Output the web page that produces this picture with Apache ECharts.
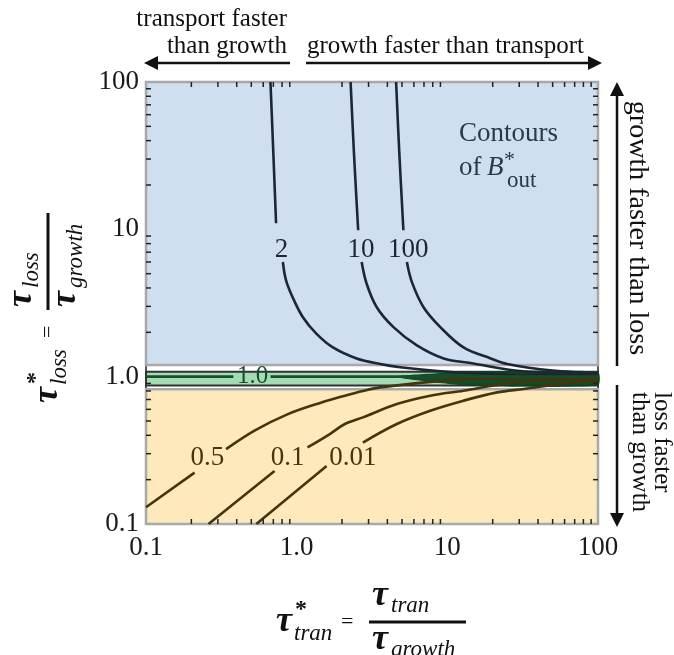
<!DOCTYPE html>
<html>
<head>
<meta charset="utf-8">
<script src="https://cdn.jsdelivr.net/npm/echarts@6/dist/echarts.min.js"></script>
<style>
  html, body { margin: 0; padding: 0; background: #fff; }
  #main { width: 674px; height: 655px; }
</style>
</head>
<body>
<div id="main"></div>
<script>
// 坐标轴刻度
var xTickLabels = ['0.1', '1.0', '10', '100'];
var yTickLabels = ['0.1', '1.0', '10', '100'];

// 背景区域 (tau_loss*)
var blueRange = [1.2, 100];
var greenRange = [0.87, 1.08];
var orangeRange = [0.1, 0.82];

// 等值线 B*_out, null = 标签处断开
var curve2 = [[0.67, 100], [0.70, 33], [0.73, 11], null, [0.81, 6.0], [0.85, 4.5], [0.94, 3.46], [1.1, 2.53], [1.35, 1.96], [1.74, 1.58], [2.5, 1.33], [3.58, 1.22], [4.86, 1.16], [10, 1.08], [30, 1.03], [100, 1.01]];
var curve10 = [[2.28, 100], [2.4, 33], [2.56, 9.85], null, [2.70, 6.0], [2.91, 4.29], [3.40, 2.96], [4.39, 2.17], [6.28, 1.63], [9.45, 1.33], [14.9, 1.23], [25, 1.12], [50, 1.05], [100, 1.025]];
var curve100 = [[4.57, 100], [4.8, 33], [5.11, 9.85], null, [5.39, 6.0], [5.82, 4.38], [6.95, 2.96], [8.98, 2.17], [12.8, 1.58], [19.4, 1.33], [25, 1.22], [50, 1.1], [100, 1.05]];
var curve05 = [[0.1, 0.13], [0.21, 0.223], null, [0.34, 0.322], [0.525, 0.43], [0.875, 0.557], [1.46, 0.668], [2.09, 0.743], [2.75, 0.80], [3.58, 0.846], [10, 0.94], [30, 0.98], [100, 0.995]];
var curve01 = [[0.26, 0.1], [0.713, 0.229], null, [1.18, 0.331], [1.66, 0.408], [2.09, 0.477], [2.75, 0.529], [4.62, 0.652], [7.7, 0.743], [12.8, 0.803], [25, 0.9], [50, 0.95], [100, 0.975]];
var curve001 = [[0.54, 0.1], [1.58, 0.248], null, [2.75, 0.357], [4.62, 0.477], [7.7, 0.587], [12.8, 0.687], [21.4, 0.782], [32.1, 0.825], [60, 0.9], [100, 0.95]];
var curve1 = [[0.1, 1], [0.38, 1], null, [0.67, 1], [100, 1]];
// 右侧汇聚的深色楔形
var fanPoints = [[4.5, 1.0], [14, 1.08], [100, 1.08], [100, 0.87], [14, 0.87]];

// 等值线标签 [文字, x, y]
var contourLabels = [['2', 0.794, 7.2], ['10', 2.67, 7.2], ['100', 5.5, 7.2], ['0.5', 0.255, 0.283], ['0.1', 0.871, 0.283], ['0.01', 2.36, 0.281]];
var bandLabel = ['1.0', 0.51, 1.0];

var SERIF = '"Liberation Serif", "DejaVu Serif", serif';
var upColor = '#1c2733', lowColor = '#45350e', bandColor = '#0f4a24';

// 次刻度
var minorVals = [];
[0.1, 1, 10].forEach(function (d) {
    for (var k = 2; k <= 9; k++) minorVals.push(+(d * k).toPrecision(3));
});
var tickItems = [];
minorVals.forEach(function (v) { tickItems.push({ value: [v, 1], dir: 'x' }); });
minorVals.forEach(function (v) { tickItems.push({ value: [1, v], dir: 'y' }); });

var myChart = echarts.init(document.getElementById('main'));

function lineSeries(data, color, z) {
    return {
        type: 'line', data: data, smooth: 0.35, showSymbol: false, symbol: 'none',
        connectNulls: false, z: z || 5, silent: true,
        lineStyle: { color: color, width: 2.6 }
    };
}

function idxFromLog(v) { return Math.round(Math.log(v) / Math.LN10) + 1; }

function tauTitle(x, y, rot, sub) {
    var tau = 'italic bold 36px ' + SERIF;
    var it = 'italic 23px ' + SERIF;
    var c = '#111';
    return {
        type: 'group', x: x, y: y, rotation: rot, z: 100, children: [
            { type: 'text', x: 0, y: 0, style: { text: 'τ', font: tau, fill: c, textAlign: 'left', textVerticalAlign: 'middle' } },
            { type: 'text', x: 19, y: -12, style: { text: '*', font: 'bold 24px ' + SERIF, fill: c, textAlign: 'left', textVerticalAlign: 'middle' } },
            { type: 'text', x: 18, y: 12, style: { text: sub, font: it, fill: c, textAlign: 'left', textVerticalAlign: 'middle' } },
            { type: 'text', x: 65, y: 0, style: { text: '=', font: '22px ' + SERIF, fill: c, textAlign: 'left', textVerticalAlign: 'middle' } },
            { type: 'line', shape: { x1: 93, y1: 0, x2: 190, y2: 0 }, style: { stroke: c, lineWidth: 3 } },
            { type: 'text', x: 96, y: -26, style: { text: 'τ', font: tau, fill: c, textAlign: 'left', textVerticalAlign: 'middle' } },
            { type: 'text', x: 115, y: -16, style: { text: sub, font: it, fill: c, textAlign: 'left', textVerticalAlign: 'middle' } },
            { type: 'text', x: 96, y: 18, style: { text: 'τ', font: tau, fill: c, textAlign: 'left', textVerticalAlign: 'middle' } },
            { type: 'text', x: 115, y: 28, style: { text: 'growth', font: it, fill: c, textAlign: 'left', textVerticalAlign: 'middle' } }
        ]
    };
}

var txt = function (x, y, text, size, align, rot) {
    return {
        type: 'text', x: x, y: y, rotation: rot || 0, z: 100,
        style: { text: text, font: size + 'px ' + SERIF, fill: '#111', textAlign: align || 'left', textVerticalAlign: 'middle' }
    };
};
var arrowLine = function (x1, y1, x2, y2) {
    return { type: 'line', z: 100, shape: { x1: x1, y1: y1, x2: x2, y2: y2 }, style: { stroke: '#111', lineWidth: 2.5 } };
};
var head = function (pts) {
    return { type: 'polygon', z: 100, shape: { points: pts }, style: { fill: '#111' } };
};
var note = function (x, y, text, font) {
    return { type: 'text', x: x, y: y, z: 100, style: { text: text, font: font, fill: '#2a3a4a', textAlign: 'left', textVerticalAlign: 'middle' } };
};

var option = {
    animation: false,
    backgroundColor: '#fff',
    grid: { left: 146, right: 76, top: 82, bottom: 131, show: true, borderColor: '#222', borderWidth: 1.5, backgroundColor: '#fff', z: 1 },
    xAxis: [{
        type: 'log', logBase: 10, min: 0.1, max: 100, position: 'bottom',
        axisLine: { show: false }, splitLine: { show: false },
        axisTick: { show: true, inside: true, length: 9, lineStyle: { color: '#222', width: 1.5 } },
        axisLabel: { fontFamily: SERIF, fontSize: 27, color: '#1a1a1a', margin: 10, formatter: function (v) { return xTickLabels[idxFromLog(v)]; } }
    }, {
        type: 'log', logBase: 10, min: 0.1, max: 100, position: 'top',
        axisLine: { show: false }, splitLine: { show: false },
        axisTick: { show: true, inside: true, length: 9, lineStyle: { color: '#222', width: 1.5 } },
        axisLabel: { show: false }
    }],
    yAxis: [{
        type: 'log', logBase: 10, min: 0.1, max: 100, position: 'left',
        axisLine: { show: false }, splitLine: { show: false },
        axisTick: { show: true, inside: true, length: 9, lineStyle: { color: '#222', width: 1.5 } },
        axisLabel: { fontFamily: SERIF, fontSize: 27, color: '#1a1a1a', margin: 7, formatter: function (v) { return yTickLabels[idxFromLog(v)]; } }
    }, {
        type: 'log', logBase: 10, min: 0.1, max: 100, position: 'right',
        axisLine: { show: false }, splitLine: { show: false },
        axisTick: { show: true, inside: true, length: 9, lineStyle: { color: '#222', width: 1.5 } },
        axisLabel: { show: false }
    }],
    visualMap: {
        show: false, type: 'piecewise', dimension: 1, seriesIndex: [1, 2, 3, 4, 5, 6],
        pieces: [
            { gt: 1.1, color: upColor },
            { gte: 0.85, lte: 1.1, color: bandColor },
            { lt: 0.85, color: lowColor }
        ]
    },
    series: [
        {
            type: 'line', data: [], z: 2, silent: true,
            markArea: {
                silent: true,
                data: [
                    [{ xAxis: 0.1, yAxis: blueRange[0], itemStyle: { color: '#cfdff0', borderColor: '#a9a9a9', borderWidth: 2.5 } }, { xAxis: 100, yAxis: blueRange[1] }],
                    [{ xAxis: 0.1, yAxis: greenRange[0], itemStyle: { color: '#a3dcb4', borderColor: '#333', borderWidth: 2 } }, { xAxis: 100, yAxis: greenRange[1] }],
                    [{ xAxis: 0.1, yAxis: orangeRange[0], itemStyle: { color: '#fde9bb', borderColor: '#a9a9a9', borderWidth: 2.5 } }, { xAxis: 100, yAxis: orangeRange[1] }]
                ]
            }
        },
        lineSeries(curve2, upColor),
        lineSeries(curve10, upColor),
        lineSeries(curve100, upColor),
        lineSeries(curve05, lowColor),
        lineSeries(curve01, lowColor),
        lineSeries(curve001, lowColor),
        lineSeries(curve1, '#1b4d2b', 6),
        {
            type: 'custom', z: 4, silent: true, data: [0],
            renderItem: function (params, api) {
                var pts = fanPoints.map(function (p) { return api.coord(p); });
                return { type: 'polygon', shape: { points: pts, smooth: 0.2 }, style: { fill: '#0b4420', opacity: 0.95 } };
            }
        },
        {
            type: 'scatter', z: 8, silent: true, symbolSize: 1, itemStyle: { color: 'transparent', opacity: 1 },
            data: contourLabels.map(function (l) {
                return { name: l[0], value: [l[1], l[2]], label: { color: l[2] > 1 ? '#1c2733' : '#45350e' } };
            }).concat([{ name: bandLabel[0], value: [bandLabel[1], bandLabel[2]], label: { color: '#1b4d2b', fontSize: 25 } }]),
            label: { show: true, position: 'inside', formatter: '{b}', fontFamily: SERIF, fontSize: 27, opacity: 1, textBorderWidth: 0 }
        },
        {
            type: 'custom', z: 9, silent: true, clip: false,
            data: tickItems.map(function (t) { return t.value; }),
            renderItem: function (params, api) {
                var cs = params.coordSys;
                var t = tickItems[params.dataIndex];
                var p = api.coord(t.value);
                var L = 5, st = { stroke: '#222', lineWidth: 1.5 };
                if (t.dir === 'x') {
                    return { type: 'group', children: [
                        { type: 'line', shape: { x1: p[0], y1: cs.y, x2: p[0], y2: cs.y + L }, style: st },
                        { type: 'line', shape: { x1: p[0], y1: cs.y + cs.height, x2: p[0], y2: cs.y + cs.height - L }, style: st }
                    ] };
                }
                return { type: 'group', children: [
                    { type: 'line', shape: { x1: cs.x, y1: p[1], x2: cs.x + L, y2: p[1] }, style: st },
                    { type: 'line', shape: { x1: cs.x + cs.width, y1: p[1], x2: cs.x + cs.width - L, y2: p[1] }, style: st }
                ] };
            }
        }
    ],
    graphic: [
        // 图内说明
        note(459, 134, 'Contours', '27px ' + SERIF),
        note(459, 168, 'of', '27px ' + SERIF),
        note(487, 168, 'B', 'italic 27px ' + SERIF),
        note(504, 160, '*', '22px ' + SERIF),
        note(507, 181, 'out', '23px ' + SERIF),
        // 顶部箭头
        txt(287, 19, 'transport faster', 25, 'right'),
        txt(287, 46, 'than growth', 25, 'right'),
        txt(307, 46, 'growth faster than transport', 25, 'left'),
        arrowLine(152, 63, 290, 63), head([[144, 63], [158, 56], [158, 70]]),
        arrowLine(306, 63, 594, 63), head([[602, 63], [588, 56], [588, 70]]),
        // 右侧箭头
        arrowLine(617, 92, 617, 366), head([[617, 82], [610, 96], [624, 96]]),
        arrowLine(617, 385, 617, 518), head([[617, 527], [610, 513], [624, 513]]),
        txt(637, 228, 'growth faster than loss', 28, 'center', -Math.PI / 2),
        txt(662, 392, 'loss faster', 25, 'left', -Math.PI / 2),
        txt(640, 392, 'than growth', 25, 'left', -Math.PI / 2),
        // 轴标题
        tauTitle(276, 622, 0, 'tran'),
        tauTitle(48, 403, Math.PI / 2, 'loss')
    ]
};
myChart.setOption(option);
</script>
</body>
</html>
